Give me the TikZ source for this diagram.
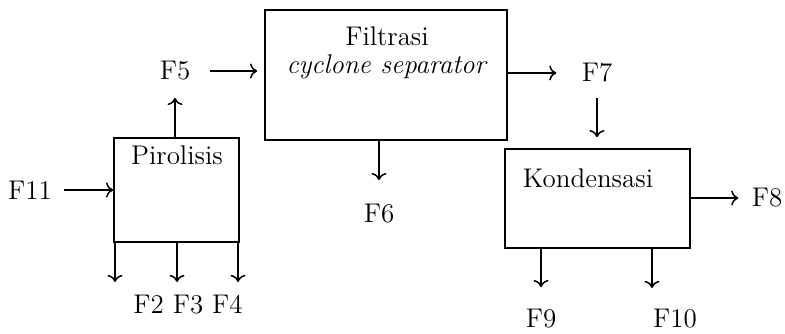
\documentclass[tikz,border=0pt]{standalone}
\usetikzlibrary{arrows.meta}
\begin{document}
\begin{tikzpicture}[x=0.5pt,y=-0.5pt,font=\fontsize{13.5}{15}\selectfont,
    unit/.style={draw, rectangle, line width=0.8pt, inner sep=0pt},
    flow/.style={-{To[scale=1.1]}, line width=0.75pt},
    stream/.style={inner sep=3pt},
    title/.style={inner sep=0pt, anchor=base}]
            \useasboundingbox (0,0) rectangle (785,333);
            \node [unit, minimum width=62.5pt, minimum height=52pt] (pir) at (176.5,190) {};
            \node [unit, minimum width=121pt, minimum height=65pt] (filt) at (386,75) {};
            \node [unit, minimum width=92.5pt, minimum height=49.5pt] (kond) at (597.5,198.5) {};
            \node [title] (pirT) at (177,164) {Pirolisis};
            \node [title] (filtT) at (387,45) {Filtrasi};
            \node [title] (filtS) at (387,73) {\textit{cyclone separator}};
            \node [title] (kondT) at (588,187) {Kondensasi};
            \node [stream] (f11) at (30,190) {F11};
            \node [stream] (f5) at (175,71) {F5};
            \node [stream] (f6) at (379,214) {F6};
            \node [stream] (f7) at (597,73) {F7};
            \node [stream] (f8) at (767,198) {F8};
            \node [stream] (f234) at (188,305) {F2 F3 F4};
            \node [stream] (f9) at (541,319) {F9};
            \node [stream] (f10) at (675,319) {F10};
            \coordinate (f2end) at (115,282);
            \coordinate (f3end) at (177,282);
            \coordinate (f4end) at (238,282);
            \coordinate (f10end) at (652,288);
            \draw [flow, shorten <=3pt] (f11.east) -- (f11.east -| pir.west);
            \draw [flow, shorten >=5.5pt] (f5.south |- pir.north) -- (f5.south);
            \draw [flow, shorten <=6.5pt, shorten >=3.5pt] (f5.east) -- (f5.east -| filt.west);
            \draw [flow, shorten >=9pt] (f6 |- filt.south) -- (f6.north);
            \draw [flow, shorten >=9.5pt] (filt.east |- f7) -- (f7.west);
            \draw [flow, shorten <=4.5pt, shorten >=5.5pt] (f7.south) -- (f7.south |- kond.north);
            \draw [flow, shorten >=3.5pt] (kond.east |- f8) -- (f8.west);
            \draw [flow, shorten >=8pt] (f9 |- kond.south) -- (f9.north);
            \draw [flow] (f10end |- kond.south) -- (f10end);
            \draw [flow] (f2end |- pir.south) -- (f2end);
            \draw [flow] (f3end |- pir.south) -- (f3end);
            \draw [flow] (f4end |- pir.south) -- (f4end);
        \end{tikzpicture}
\end{document}
